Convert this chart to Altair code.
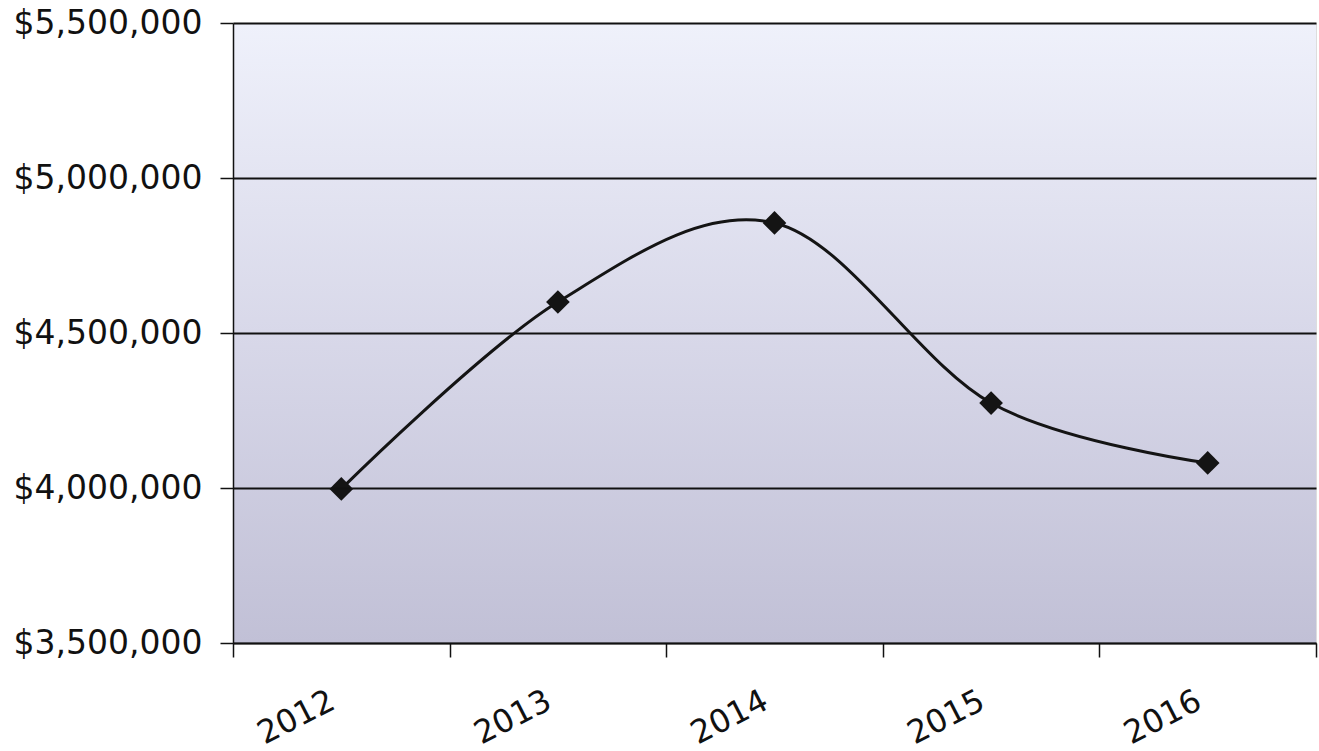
import altair as alt
import pandas as pd

years = ["2012", "2013", "2014", "2015", "2016"]
balances = [3997000, 4600000, 4855000, 4274000, 4081000]
y_ticks = [3500000, 4000000, 4500000, 5000000, 5500000]

df = pd.DataFrame({"year": years, "balance": balances})

W, H = 1083, 620

xenc = alt.X(
    "year:O",
    sort=years,
    scale=alt.Scale(type="band", paddingInner=0, paddingOuter=0),
    axis=alt.Axis(
        title=None,
        labelAngle=-27,
        labelFont="DejaVu Sans",
        labelFontSize=32,
        labelColor="#111111",
        labelPadding=28,
        labelOffset=-16,
        labelLimit=400,
        tickBand="extent",
        tickSize=14,
        tickColor="#111111",
        tickWidth=1.5,
        domainColor="#111111",
        domainWidth=1.5,
        grid=False,
        zindex=1,
    ),
)
yenc = alt.Y(
    "balance:Q",
    scale=alt.Scale(domain=[3500000, 5500000], nice=False, zero=False),
    axis=alt.Axis(
        title=None,
        values=y_ticks,
        format="$,.0f",
        labelFont="DejaVu Sans",
        labelFontSize=33,
        labelColor="#111111",
        labelPadding=18,
        labelLimit=400,
        tickSize=13,
        tickColor="#111111",
        tickWidth=1.5,
        domainColor="#111111",
        domainWidth=1.5,
        grid=True,
        gridColor="#111111",
        gridWidth=1.8,
        gridOpacity=1,
        zindex=1,
    ),
)

grad = alt.LinearGradient(
    gradient="linear",
    x1=0, x2=0, y1=0, y2=1,
    stops=[
        alt.GradientStop(color="#eff1fb", offset=0),
        alt.GradientStop(color="#d8d8e9", offset=0.5),
        alt.GradientStop(color="#c1c0d6", offset=1),
    ],
)

bg = alt.Chart(df).mark_rect(color=grad).encode(
    x=alt.value(0), x2=alt.value(W), y=alt.value(0), y2=alt.value(H)
)

line = alt.Chart(df).mark_line(
    color="#141414", strokeWidth=3, interpolate="cardinal", tension=0
).encode(x=xenc, y=yenc)

pts = alt.Chart(df).mark_point(
    shape="diamond", filled=True, color="#141414", size=560, opacity=1
).encode(x=xenc, y=yenc)

chart = alt.layer(bg, line, pts).properties(
    width=W,
    height=H,
    autosize=alt.AutoSizeParams(type="none"),
    padding={"left": 233, "top": 23, "right": 3, "bottom": 108},
).configure_view(
    stroke="#111111", strokeWidth=1.8
).configure(background="white")

chart.save("out.html", embed_options={"renderer": "svg", "actions": False})
